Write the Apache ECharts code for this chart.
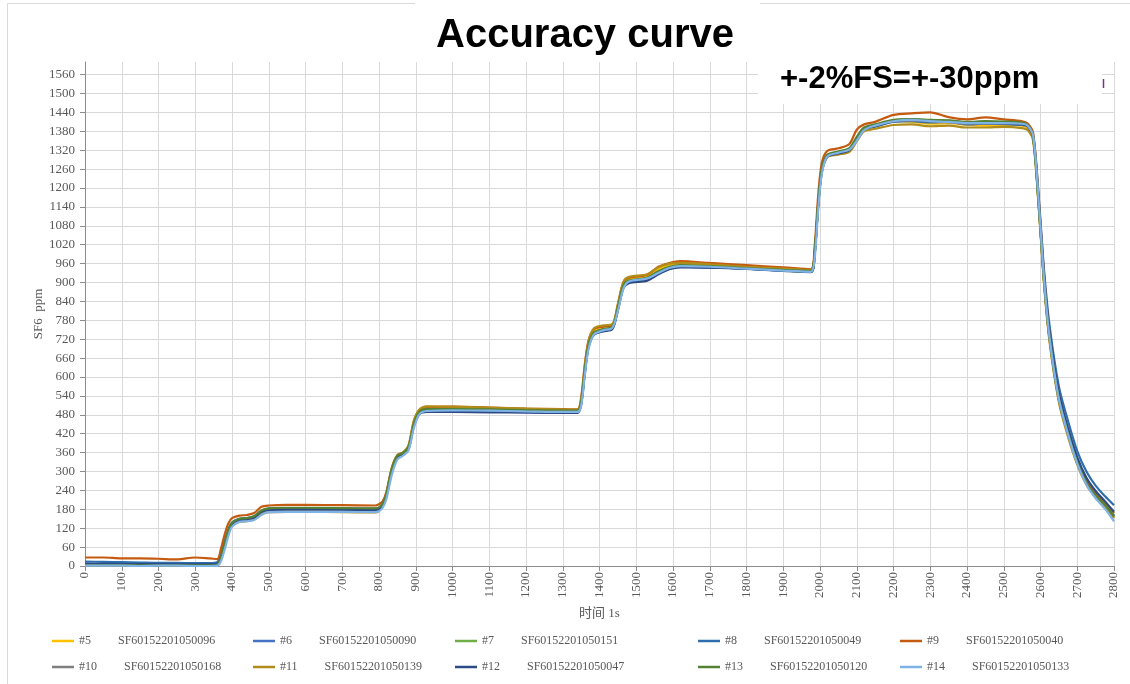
<!DOCTYPE html>
<html>
<head>
<meta charset="utf-8">
<script src="https://cdn.jsdelivr.net/npm/echarts@6/dist/echarts.min.js"></script>
<style>
  html, body { margin: 0; padding: 0; background: #fff; }
  #chart { width: 1130px; height: 684px; }
</style>
</head>
<body>
<div id="chart"></div>
<script>
// time axis (s), shared by all sensors
const times = [0, 50, 100, 150, 200, 250, 300, 340, 360, 370,
  380, 390, 400, 420, 440, 460, 480, 500, 550, 600,
  700, 790, 800, 810, 820, 835, 850, 865, 880, 895,
  910, 930, 1000, 1100, 1200, 1300, 1340, 1350, 1360, 1370,
  1385, 1410, 1435, 1450, 1465, 1480, 1530, 1560, 1590, 1620,
  1700, 1800, 1900, 1975, 1985, 1995, 2005, 2020, 2050, 2080,
  2100, 2120, 2150, 2200, 2250, 2300, 2350, 2400, 2450, 2500,
  2550, 2565, 2580, 2595, 2610, 2625, 2650, 2675, 2700, 2725,
  2750, 2775, 2800];

// readings, ppm
const sf5 = [4, 4, 3, 3, 3, 3, 3, 2, 4, 28,
  68, 108, 132, 145, 146, 152, 168, 174, 175, 176,
  175, 174, 178, 194, 226, 308, 350, 358, 378, 455,
  492, 502, 502, 500, 497, 494, 494, 524, 626, 706,
  748, 759, 764, 826, 896, 912, 921, 942, 956, 958,
  955, 948, 942, 938, 990, 1150, 1258, 1303, 1312, 1322,
  1358, 1388, 1396, 1412, 1410, 1404, 1406, 1400, 1398, 1400,
  1398, 1390, 1355, 1145, 895, 715, 525, 415, 326, 262,
  222, 192, 156];
const sf6 = [5, 5, 4, 4, 4, 5, 4, 4, 5, 30,
  72, 110, 134, 147, 149, 154, 171, 178, 179, 179,
  178, 177, 180, 195, 224, 302, 346, 354, 373, 448,
  486, 494, 494, 493, 491, 489, 489, 516, 615, 696,
  736, 747, 755, 815, 885, 900, 908, 928, 944, 950,
  948, 944, 938, 934, 985, 1145, 1255, 1302, 1312, 1322,
  1356, 1386, 1398, 1414, 1418, 1413, 1409, 1406, 1405, 1406,
  1404, 1398, 1362, 1152, 902, 722, 532, 422, 332, 267,
  226, 196, 160];
const sf7 = [6, 6, 5, 5, 5, 5, 5, 5, 7, 32,
  74, 112, 136, 149, 151, 156, 174, 180, 182, 182,
  181, 180, 183, 196, 226, 306, 349, 356, 376, 452,
  489, 498, 498, 497, 495, 492, 492, 520, 620, 700,
  740, 751, 759, 820, 890, 904, 914, 934, 948, 953,
  950, 945, 938, 935, 988, 1148, 1258, 1304, 1314, 1324,
  1360, 1390, 1400, 1415, 1418, 1415, 1414, 1408, 1410, 1409,
  1406, 1398, 1360, 1148, 898, 718, 528, 418, 328, 262,
  222, 192, 156];
const sf8 = [14, 13, 12, 11, 10, 10, 9, 9, 12, 35,
  78, 115, 138, 150, 152, 158, 175, 182, 184, 183,
  183, 182, 184, 196, 225, 305, 346, 354, 372, 448,
  485, 493, 492, 491, 490, 489, 489, 515, 615, 698,
  738, 748, 755, 815, 885, 902, 910, 930, 946, 950,
  948, 944, 938, 935, 985, 1145, 1255, 1300, 1310, 1320,
  1355, 1385, 1395, 1410, 1412, 1408, 1410, 1402, 1404, 1403,
  1400, 1396, 1368, 1175, 935, 760, 570, 460, 365, 300,
  255, 222, 193];
const sf9 = [27, 27, 24, 24, 23, 21, 27, 24, 22, 55,
  100, 135, 152, 160, 162, 168, 188, 192, 194, 194,
  193, 192, 196, 205, 235, 312, 352, 360, 380, 460,
  495, 505, 506, 503, 500, 498, 497, 535, 640, 715,
  752, 760, 765, 830, 900, 915, 925, 950, 962, 968,
  962, 955, 948, 942, 1010, 1175, 1280, 1318, 1326, 1340,
  1385, 1402, 1410, 1432, 1437, 1440, 1425, 1418, 1424, 1418,
  1412, 1405, 1375, 1170, 920, 735, 545, 432, 340, 275,
  232, 200, 168];
const sf10 = [4, 4, 4, 3, 3, 3, 3, 3, 5, 30,
  70, 110, 135, 148, 150, 155, 172, 178, 180, 180,
  179, 178, 181, 195, 225, 304, 347, 355, 374, 450,
  488, 496, 496, 495, 493, 491, 491, 519, 619, 699,
  739, 750, 758, 818, 888, 903, 913, 932, 947, 952,
  950, 945, 939, 936, 988, 1148, 1258, 1304, 1314, 1324,
  1358, 1388, 1397, 1411, 1414, 1411, 1409, 1404, 1404, 1404,
  1401, 1394, 1358, 1148, 898, 718, 528, 418, 328, 263,
  223, 193, 158];
const sf11 = [3, 2, 2, 1, 2, 2, 1, 1, 3, 25,
  62, 105, 128, 140, 142, 148, 165, 171, 172, 172,
  171, 170, 175, 192, 228, 312, 352, 360, 382, 462,
  497, 507, 506, 503, 500, 497, 496, 528, 632, 712,
  755, 764, 768, 832, 902, 918, 926, 948, 960, 962,
  958, 950, 944, 940, 992, 1148, 1250, 1298, 1306, 1315,
  1348, 1380, 1388, 1400, 1402, 1396, 1398, 1392, 1392, 1394,
  1390, 1384, 1350, 1140, 890, 708, 520, 410, 322, 258,
  218, 188, 152];
const sf12 = [7, 7, 6, 6, 6, 5, 5, 5, 7, 28,
  68, 108, 132, 146, 148, 153, 172, 178, 180, 180,
  179, 178, 180, 194, 222, 300, 344, 352, 370, 444,
  482, 489, 489, 488, 487, 486, 486, 512, 612, 694,
  734, 745, 752, 812, 882, 898, 906, 926, 942, 948,
  947, 943, 937, 933, 984, 1142, 1252, 1300, 1310, 1320,
  1354, 1386, 1396, 1412, 1416, 1412, 1412, 1406, 1406, 1405,
  1402, 1396, 1364, 1160, 915, 738, 548, 436, 345, 280,
  238, 206, 172];
const sf13 = [3, 3, 3, 2, 2, 2, 2, 2, 4, 30,
  72, 112, 137, 150, 152, 158, 176, 183, 185, 185,
  184, 183, 186, 198, 228, 308, 350, 358, 377, 452,
  490, 498, 498, 497, 495, 493, 493, 521, 621, 701,
  741, 752, 760, 821, 891, 906, 916, 936, 950, 955,
  952, 946, 940, 937, 990, 1150, 1260, 1306, 1316, 1327,
  1362, 1392, 1402, 1416, 1419, 1416, 1415, 1410, 1412, 1411,
  1408, 1400, 1362, 1150, 900, 720, 530, 420, 330, 264,
  224, 194, 158];
const sf14 = [1, 1, 1, 0, 1, 1, 0, 0, 1, 15,
  52, 95, 124, 140, 142, 146, 162, 171, 172, 172,
  172, 171, 174, 185, 212, 290, 338, 350, 366, 438,
  482, 492, 494, 493, 491, 489, 489, 508, 605, 688,
  735, 748, 756, 810, 880, 903, 913, 930, 946, 952,
  950, 944, 938, 934, 970, 1130, 1245, 1300, 1312, 1322,
  1350, 1384, 1398, 1412, 1416, 1412, 1410, 1406, 1406, 1406,
  1404, 1398, 1366, 1158, 905, 722, 530, 418, 325, 258,
  215, 182, 142];

const names = ['#5', '#6', '#7', '#8', '#9', '#10', '#11', '#12', '#13', '#14'];
const serials = ['SF60152201050096', 'SF60152201050090', 'SF60152201050151',
  'SF60152201050049', 'SF60152201050040', 'SF60152201050168', 'SF60152201050139',
  'SF60152201050047', 'SF60152201050120', 'SF60152201050133'];
const readings = [sf5, sf6, sf7, sf8, sf9, sf10, sf11, sf12, sf13, sf14];

const colors = ['#FFC000', '#4472C4', '#70AD47', '#2F6EAD', '#C55A11',
  '#7F7F7F', '#B08D1A', '#2B4A86', '#548235', '#7FB2E5'];

const serif = "'Liberation Serif', 'Noto Sans CJK SC', serif";
const labelColor = '#595959';
const gridColor = '#D9D9D9';

const chart = echarts.init(document.getElementById('chart'));

const series = names.map((name, i) => ({
  name: name,
  type: 'line',
  data: times.map((t, k) => [t, readings[i][k]]),
  smooth: 0.3,
  symbol: 'none',
  lineStyle: { width: 2.2, color: colors[i] },
  itemStyle: { color: colors[i] }
}));

// legend: two rows of five, one component per item
const legendX = [52, 253, 455, 698, 900];
const legendY = [635, 661];
const legends = names.map((name, i) => ({
  data: [{ name: name, icon: 'rect', itemStyle: { color: colors[i] } }],
  left: legendX[i % 5],
  top: legendY[Math.floor(i / 5)],
  padding: 0,
  itemWidth: 22,
  itemHeight: 2.5,
  itemGap: 0,
  selectedMode: false,
  formatter: n => `{n|${n}}{s|${serials[names.indexOf(n)]}}`,
  textStyle: {
    color: labelColor,
    fontFamily: serif,
    fontSize: 12,
    rich: {
      n: { color: labelColor, fontFamily: serif, fontSize: 12 },
      s: { color: labelColor, fontFamily: serif, fontSize: 12, padding: [0, 0, 0, 27] }
    }
  }
}));

// 0..1560 step 60 gets grid lines, the 1600 top edge does not
const ySplitColors = [];
for (let v = 0; v <= 1560; v += 60) ySplitColors.push(gridColor);
ySplitColors.push('rgba(0,0,0,0)');

const option = {
  animation: false,
  backgroundColor: '#fff',
  title: {
    text: 'Accuracy curve',
    left: 436,
    top: 16,
    padding: 0,
    textStyle: {
      fontFamily: "'Liberation Sans', Arial, sans-serif",
      fontSize: 40,
      fontWeight: 'bold',
      color: '#000'
    }
  },
  legend: legends,
  grid: { left: 85, right: 16, top: 62, bottom: 118 },
  xAxis: {
    type: 'value',
    min: 0,
    max: 2800,
    interval: 100,
    name: '时间 1s',
    nameLocation: 'middle',
    nameGap: 41,
    nameTextStyle: { color: labelColor, fontFamily: serif, fontSize: 13 },
    axisLine: { show: true, lineStyle: { color: '#8C8C8C', width: 1 } },
    axisTick: { show: true, length: 5, lineStyle: { color: '#8C8C8C' } },
    axisLabel: {
      rotate: 90, margin: 6, color: labelColor, fontFamily: serif, fontSize: 13,
      formatter: v => String(v)
    },
    splitLine: { show: true, lineStyle: { color: gridColor, width: 1 } }
  },
  yAxis: {
    type: 'value',
    min: 0,
    max: 1600,
    interval: 60,
    name: 'SF6  ppm',
    nameLocation: 'middle',
    nameGap: 40,
    nameMoveOverlap: false,
    nameRotate: 90,
    nameTextStyle: { color: labelColor, fontFamily: serif, fontSize: 13 },
    axisLine: { show: true, lineStyle: { color: '#8C8C8C', width: 1 } },
    axisTick: { show: true, length: 5, lineStyle: { color: '#8C8C8C' } },
    axisLabel: {
      showMaxLabel: false, margin: 10, color: labelColor, fontFamily: serif, fontSize: 13,
      formatter: v => String(v)
    },
    splitLine: { show: true, lineStyle: { color: ySplitColors, width: 1 } }
  },
  graphic: [
    // outer frame, broken behind the title
    { type: 'line', z: 100, shape: { x1: 7.5, y1: 3.5, x2: 7.5, y2: 684 }, style: { stroke: gridColor, lineWidth: 1 } },
    { type: 'line', z: 100, shape: { x1: 7.5, y1: 3.5, x2: 415, y2: 3.5 }, style: { stroke: gridColor, lineWidth: 1 } },
    { type: 'line', z: 100, shape: { x1: 760, y1: 3.5, x2: 1130, y2: 3.5 }, style: { stroke: gridColor, lineWidth: 1 } },
    // tolerance note box
    { type: 'rect', z: 100, shape: { x: 758, y: 58, width: 344, height: 46 }, style: { fill: '#fff' } },
    {
      type: 'text', z: 101, left: 780, top: 64,
      style: {
        text: '+-2%FS=+-30ppm',
        fill: '#000',
        font: "bold 31px 'Liberation Sans', Arial, sans-serif"
      }
    },
    { type: 'line', z: 101, shape: { x1: 1103.5, y1: 79, x2: 1103.5, y2: 88 }, style: { stroke: '#7030A0', lineWidth: 1.5 } }
  ],
  series: series
};

chart.setOption(option);
window.addEventListener('resize', () => chart.resize());
</script>
</body>
</html>
